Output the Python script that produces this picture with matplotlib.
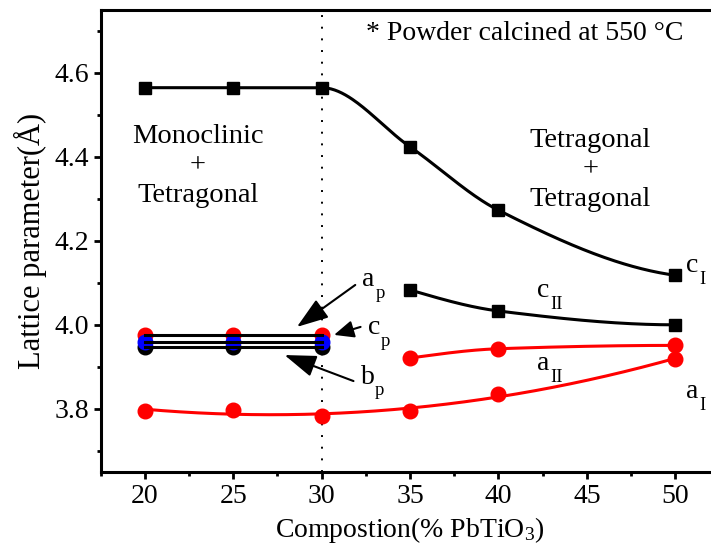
import numpy as np
import matplotlib
matplotlib.use("Agg")
import matplotlib.pyplot as plt
from matplotlib.ticker import MultipleLocator, FormatStrFormatter

plt.rcParams['font.family'] = ['Liberation Serif', 'DejaVu Serif']
plt.rcParams['mathtext.fontset'] = 'custom'
plt.rcParams['mathtext.rm'] = 'Liberation Serif'
plt.rcParams['mathtext.it'] = 'Liberation Serif:italic'

# lattice parameters (Angstrom) vs. PbTiO3 content (%)
comp_I = [20, 25, 30, 35, 40, 50]
c_I = [4.565, 4.565, 4.565, 4.424, 4.273, 4.118]
a_I = [3.795, 3.798, 3.782, 3.794, 3.836, 3.919]

comp_II = [35, 40, 50]
c_II = [4.083, 4.033, 4.000]
a_II = [3.921, 3.943, 3.951]

# pseudo-cubic parameters of the monoclinic phase
comp_p = [20, 25, 30]
a_p = [3.976, 3.976, 3.976]
c_p = [3.959, 3.959, 3.959]
b_p = [3.946, 3.946, 3.946]


def pchip(x, y, xs):
    # monotone cubic Hermite interpolation
    x = np.asarray(x, float)
    y = np.asarray(y, float)
    h = np.diff(x)
    d = np.diff(y) / h
    n = len(x)
    m = np.zeros(n)
    for k in range(1, n - 1):
        if d[k - 1] * d[k] > 0:
            w1 = 2 * h[k] + h[k - 1]
            w2 = h[k] + 2 * h[k - 1]
            m[k] = (w1 + w2) / (w1 / d[k - 1] + w2 / d[k])

    def edge(h0, h1, d0, d1):
        v = ((2 * h0 + h1) * d0 - h0 * d1) / (h0 + h1)
        if np.sign(v) != np.sign(d0):
            v = 0.0
        elif np.sign(d0) != np.sign(d1) and abs(v) > abs(3 * d0):
            v = 3 * d0
        return v

    m[0] = edge(h[0], h[1], d[0], d[1])
    m[-1] = edge(h[-1], h[-2], d[-1], d[-2])
    xs = np.asarray(xs, float)
    i = np.clip(np.searchsorted(x, xs) - 1, 0, n - 2)
    t = (xs - x[i]) / h[i]
    h00 = 2 * t**3 - 3 * t**2 + 1
    h10 = t**3 - 2 * t**2 + t
    h01 = -2 * t**3 + 3 * t**2
    h11 = t**3 - t**2
    return h00 * y[i] + h10 * h[i] * m[i] + h01 * y[i + 1] + h11 * h[i] * m[i + 1]


def sublabel(ax, x, y, base, sub, fs=20):
    # letter with a dropped subscript, y is the baseline of the letter
    ax.text(x, y, base, fontsize=fs, va='baseline')
    dx = {'a': 0.47, 'b': 0.52, 'c': 0.47}[base] * fs
    ax.annotate(sub, xy=(x, y), xytext=(dx, -8.5), textcoords='offset points',
                fontsize=fs * 0.68, va='baseline')


fig = plt.figure(figsize=(7.11, 5.57), dpi=100)
ax = fig.add_axes([0.1416, 0.1531, 0.8703, 0.8289])

xs_I = np.linspace(20, 50, 300)
xs_II = np.linspace(35, 50, 200)

ax.axvline(30.03, color='black', ls=(0, (1, 5)), lw=1.4, zorder=1)

# fitted curves
ax.plot(xs_I, pchip(comp_I, c_I, xs_I), color='black', lw=2.2, zorder=2)
ax.plot(xs_II, pchip(comp_II, c_II, xs_II), color='black', lw=2.2, zorder=2)
ax.plot(xs_II, pchip(comp_II, a_II, xs_II), color='red', lw=2.2, zorder=2)
ax.plot(xs_I, np.polyval(np.polyfit(comp_I, a_I, 2), xs_I), color='red', lw=2.2, zorder=2)

ax.plot(comp_I, c_I, 's', color='black', ms=9, zorder=3)
ax.plot(comp_II, c_II, 's', color='black', ms=9, zorder=3)
ax.plot(comp_II, a_II, 'o', color='red', ms=10.5, zorder=3)
ax.plot(comp_I, a_I, 'o', color='red', ms=10.5, zorder=3)

ax.plot(comp_p, a_p, 'o', color='red', ms=10.5, zorder=3)
ax.plot(comp_p, b_p, 'o', color='black', ms=10.5, zorder=3)
ax.plot(comp_p, c_p, 'o', color='blue', ms=10.5, zorder=3)
for vals in (a_p, c_p, b_p):
    ax.plot(comp_p, vals, color='black', lw=2.2, zorder=4)

# arrows pointing to the pseudo-cubic lines
big = dict(arrowstyle='-|>,head_length=1.3,head_width=0.45', color='black',
           lw=1.5, mutation_scale=15, shrinkA=0, shrinkB=0)
small = dict(arrowstyle='-|>,head_length=0.8,head_width=0.35', color='black',
             lw=1.5, mutation_scale=15, shrinkA=0, shrinkB=0)
ax.annotate('', xy=(28.6, 3.995), xytext=(31.9, 4.095), arrowprops=big)
ax.annotate('', xy=(27.9, 3.928), xytext=(31.8, 3.866), arrowprops=big)
ax.annotate('', xy=(30.7, 3.976), xytext=(32.2, 3.995), arrowprops=small)

sublabel(ax, 32.3, 4.093, 'a', 'p')
sublabel(ax, 32.6, 3.977, 'c', 'p')
sublabel(ax, 32.2, 3.86, 'b', 'p')
sublabel(ax, 50.6, 4.125, 'c', 'I')
sublabel(ax, 42.2, 4.066, 'c', 'II')
sublabel(ax, 42.2, 3.893, 'a', 'II')
sublabel(ax, 50.6, 3.825, 'a', 'I')

ax.text(23.0, 4.378, 'Monoclinic\n+\nTetragonal', fontsize=20.5, ha='center',
        va='center', linespacing=1.25)
ax.text(45.2, 4.369, 'Tetragonal\n+\nTetragonal', fontsize=20.5, ha='center',
        va='center', linespacing=1.25)
ax.text(41.5, 4.695, '* Powder calcined at 550 \u00b0C', fontsize=20,
        ha='center', va='center')

ax.set_xlim(17.5, 52.5)
ax.set_ylim(3.65, 4.75)
ax.xaxis.set_major_locator(MultipleLocator(5))
ax.xaxis.set_minor_locator(MultipleLocator(2.5))
ax.yaxis.set_major_locator(MultipleLocator(0.2))
ax.yaxis.set_minor_locator(MultipleLocator(0.1))
ax.yaxis.set_major_formatter(FormatStrFormatter('%.1f'))
ax.tick_params(which='major', direction='out', length=5, width=2, labelsize=20)
ax.tick_params(which='minor', direction='out', length=3, width=2)
for sp in ax.spines.values():
    sp.set_linewidth(2.2)

ax.set_xlabel(r'Compostion(% PbTiO$_3$)', fontsize=20, labelpad=5)
ax.set_ylabel('Lattice parameter(\u00c5)', fontsize=22, labelpad=5)

fig.savefig('out.png', dpi=100)
